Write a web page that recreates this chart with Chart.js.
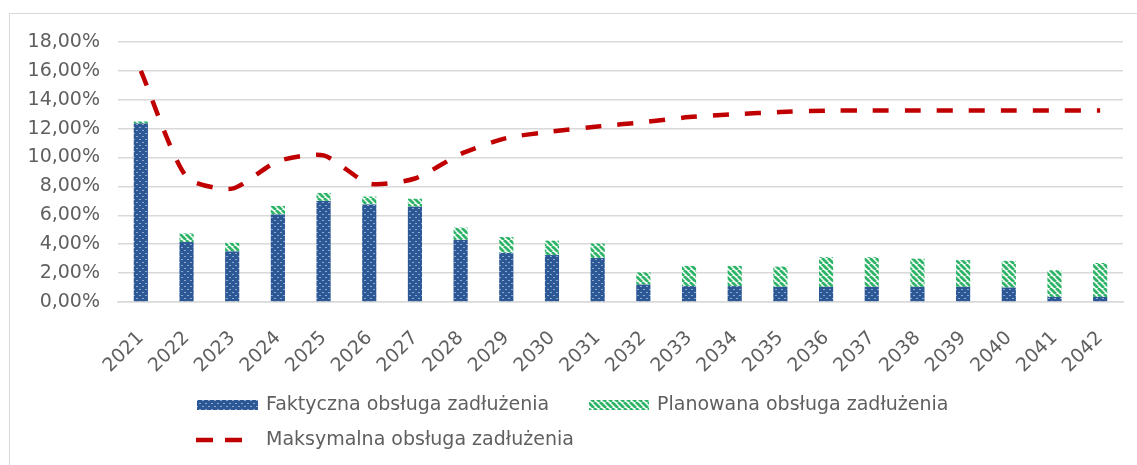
<!DOCTYPE html>
<html>
<head>
<meta charset="utf-8">
<script src="https://cdn.jsdelivr.net/npm/chart.js@4.4.1/dist/chart.umd.min.js"></script>
<style>
  html, body { margin: 0; padding: 0; background: #ffffff; }
  #wrap { position: relative; width: 1137px; height: 465px; overflow: hidden; }
  #frame { position: absolute; left: 9px; top: 13px; width: 1200px; height: 500px; border-left: 1.5px solid #D9D9D9; border-top: 1.5px solid #D9D9D9; box-sizing: border-box; }
  canvas { position: absolute; left: 0; top: 0; }
</style>
</head>
<body>
<div id="wrap">
  <div id="frame"></div>
  <canvas id="c" width="1137" height="465"></canvas>
</div>
<script>
const years = ['2021','2022','2023','2024','2025','2026','2027','2028','2029','2030','2031','2032','2033','2034','2035','2036','2037','2038','2039','2040','2041','2042'];
const faktyczna = [12.35, 4.15, 3.5, 6.05, 7.0, 6.75, 6.6, 4.3, 3.4, 3.25, 3.05, 1.2, 1.1, 1.1, 1.05, 1.05, 1.05, 1.05, 1.05, 1.0, 0.35, 0.35];
const planowana = [0.15, 0.6, 0.6, 0.6, 0.55, 0.55, 0.55, 0.85, 1.1, 1.0, 1.0, 0.85, 1.4, 1.4, 1.4, 2.05, 2.05, 1.95, 1.85, 1.85, 1.85, 2.35];
const maksymalna = [16.0, 8.65, 7.85, 9.75, 10.15, 8.2, 8.55, 10.25, 11.35, 11.8, 12.15, 12.45, 12.8, 13.0, 13.15, 13.25, 13.25, 13.25, 13.25, 13.25, 13.25, 13.25];
const seriesNames = ['Faktyczna obsługa zadłużenia', 'Planowana obsługa zadłużenia', 'Maksymalna obsługa zadłużenia'];
const yTickValues = [0, 2, 4, 6, 8, 10, 12, 14, 16, 18];

const FONT = '"DejaVu Sans", sans-serif';
const TEXT_COLOR = '#5f5f5f';

function makeBluePattern() {
  const t = document.createElement('canvas');
  t.width = 6; t.height = 6;
  const g = t.getContext('2d');
  g.fillStyle = '#2C5895';
  g.fillRect(0, 0, 6, 6);
  g.fillStyle = '#8FA8CF';
  g.fillRect(1, 1, 2, 1);
  g.fillRect(4, 4, 2, 1);
  return g.createPattern(t, 'repeat');
}
function makeGreenPattern() {
  const t = document.createElement('canvas');
  t.width = 6; t.height = 6;
  const g = t.getContext('2d');
  g.fillStyle = '#ffffff';
  g.fillRect(0, 0, 6, 6);
  g.strokeStyle = '#2DB467';
  g.lineWidth = 2.8;
  g.beginPath();
  for (let k = -6; k <= 12; k += 6) {
    g.moveTo(k, 0);
    g.lineTo(k + 6, 6);
  }
  g.stroke();
  return g.createPattern(t, 'repeat');
}
const bluePat = makeBluePattern();
const greenPat = makeGreenPattern();

const legendPlugin = {
  id: 'customLegend',
  afterDraw(chart) {
    const ctx = chart.ctx;
    ctx.save();
    ctx.font = '19px ' + FONT;
    ctx.textBaseline = 'middle';
    ctx.textAlign = 'left';
    const r1 = 405, r2 = 440;
    ctx.fillStyle = bluePat;
    ctx.fillRect(197, r1 - 5, 61, 10);
    ctx.fillStyle = TEXT_COLOR;
    ctx.fillText(seriesNames[0], 266, r1);
    ctx.fillStyle = greenPat;
    ctx.fillRect(589, r1 - 5, 60, 10);
    ctx.fillStyle = TEXT_COLOR;
    ctx.fillText(seriesNames[1], 657, r1);
    ctx.strokeStyle = '#C00000';
    ctx.lineWidth = 4.5;
    ctx.lineCap = 'butt';
    ctx.beginPath();
    ctx.moveTo(196, r2); ctx.lineTo(213, r2);
    ctx.moveTo(225, r2); ctx.lineTo(242, r2);
    ctx.stroke();
    ctx.fillStyle = TEXT_COLOR;
    ctx.fillText(seriesNames[2], 266, r2);
    ctx.restore();
  }
};

new Chart(document.getElementById('c'), {
  data: {
    labels: years,
    datasets: [
      {
        type: 'line',
        label: seriesNames[2],
        data: maksymalna,
        borderColor: '#C00000',
        borderWidth: 4.5,
        borderDash: [16, 16],
        borderCapStyle: 'butt',
        tension: 0.22,
        pointRadius: 0,
        fill: false,
        order: 0,
        stack: 'line'
      },
      {
        type: 'bar',
        label: seriesNames[0],
        data: faktyczna,
        backgroundColor: bluePat,
        borderWidth: 0,
        categoryPercentage: 0.31,
        barPercentage: 1.0,
        stack: 'bars',
        order: 1
      },
      {
        type: 'bar',
        label: seriesNames[1],
        data: planowana,
        backgroundColor: greenPat,
        borderWidth: 0,
        categoryPercentage: 0.31,
        barPercentage: 1.0,
        stack: 'bars',
        order: 1
      }
    ]
  },
  options: {
    responsive: false,
    animation: false,
    events: [],
    layout: { padding: { top: 42, right: 14, bottom: 0, left: 0 } },
    plugins: { legend: { display: false }, tooltip: { enabled: false } },
    scales: {
      x: {
        stacked: true,
        grid: { display: false },
        border: { display: true, color: '#D9D9D9', width: 1.5 },
        ticks: {
          autoSkip: false,
          minRotation: 45,
          maxRotation: 45,
          padding: 17,
          color: TEXT_COLOR,
          font: { family: FONT, size: 19 }
        },
        afterFit(scale) { scale.height = 163; }
      },
      y: {
        stacked: true,
        min: 0,
        max: 18,
        afterBuildTicks(scale) { scale.ticks = yTickValues.map(v => ({ value: v })); },
        grid: { color: '#D9D9D9', lineWidth: 1.5, drawTicks: false },
        border: { display: false },
        ticks: {
          padding: 18,
          color: TEXT_COLOR,
          font: { family: FONT, size: 19 },
          callback: v => v.toFixed(2).replace('.', ',') + '%'
        },
        afterFit(scale) { scale.width = 118; }
      }
    }
  },
  plugins: [legendPlugin]
});
</script>
</body>
</html>
